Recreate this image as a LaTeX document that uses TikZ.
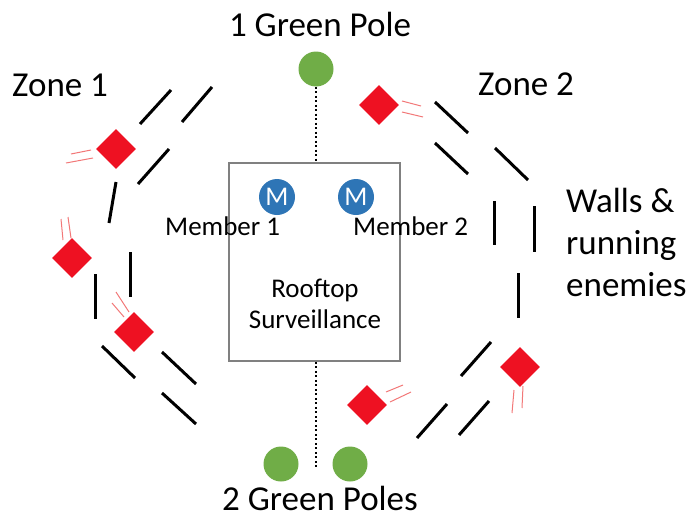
\documentclass[tikz,border=0pt]{standalone}
\usepackage{fontspec}
\setmainfont{Carlito}
\usetikzlibrary{shapes.geometric}
\definecolor{polegreen}{RGB}{112,173,71}
\definecolor{memberblue}{RGB}{46,117,182}
\definecolor{enemyred}{RGB}{238,17,34}
\definecolor{tracered}{RGB}{242,120,120}
\tikzset{
  pole/.style={circle, fill=polegreen, minimum size=35pt, inner sep=0pt},
  member/.style={circle, fill=memberblue, text=white, minimum size=36pt, inner sep=0pt, font=\fontsize{27}{27}\selectfont},
  enemy/.style={diamond, fill=enemyred, minimum size=40pt, inner sep=0pt},
  wall/.style={line width=3pt},
  trace/.style={tracered, line width=1pt},
  dotline/.style={line width=2.5pt, dash pattern=on 2pt off 2.5pt},
  bigtext/.style={font=\fontsize{35}{42}\selectfont, inner sep=0pt},
  boxtext/.style={font=\fontsize{27}{31}\selectfont, inner sep=0pt},
}
\begin{document}
\begin{tikzpicture}[x=1pt, y=-1pt]
	\useasboundingbox (0,0) rectangle (692,519);

	% poles and rooftop
	\node[pole]                                   (toppole)  at (316,69)  {};
	\node[pole]                                   (leftpole) at (281,464) {};
	\node[pole]                                   (rightpole) at (350,464) {};
	\node[draw=black!50, line width=1.5pt, minimum width=171pt, minimum height=198pt] (roof) at (314.5,262) {};
	\node[member]                                 (m1) at (277,197) {M};
	\node[member]                                 (m2) at (356,197) {M};
	\coordinate (dotend) at (316,467);

	\path [dotline] (toppole) edge (roof.north -| toppole);
	\path [dotline] (roof.south -| dotend) edge (dotend);

	% labels
	\node[bigtext, anchor=base]      (t1)    at (320,37)  {1 Green Pole};
	\node[bigtext, anchor=base]      (t2)    at (320,510) {2 Green Poles};
	\node[bigtext, anchor=base west] (zone1) at (12,96)   {Zone 1};
	\node[bigtext, anchor=base west] (zone2) at (478,95)  {Zone 2};
	\node[bigtext, anchor=base west, align=left] (walls) at (566,296) {Walls \&\\running\\enemies};
	\node[boxtext, anchor=base west] (n1) at (165,235) {Member 1};
	\node[boxtext, anchor=base west] (n2) at (353,235) {Member 2};
	\node[boxtext, anchor=base, align=center] (roofname) at (315,328) {Rooftop\\Surveillance};

	% zone 1 enemies
	\node[enemy] (e1) at (116,149) {};
	\node[enemy] (e2) at (72,258)  {};
	\node[enemy] (e3) at (134,332) {};
	\draw[trace] (91,150) -- (71,154);  \draw[trace] (93,158) -- (66,163);
	\draw[trace] (63,240) -- (61,219);  \draw[trace] (71,238) -- (68,217);
	\draw[trace] (124,317) -- (112,303); \draw[trace] (129,312) -- (116,292);

	% zone 1 walls
	\draw[wall] (140,124) -- (171,90);
	\draw[wall] (182,122) -- (212,87);
	\draw[wall] (138,184) -- (169,149);
	\draw[wall] (116,182) -- (109,223);
	\draw[wall] (130,252) -- (130,297);
	\draw[wall] (95,274) -- (95,319);
	\draw[wall] (102,346) -- (135,378);
	\draw[wall] (162,352) -- (196,384);
	\draw[wall] (162,393) -- (196,424);

	% zone 2 enemies
	\node[enemy] (e4) at (379,105) {};
	\node[enemy] (e5) at (520,367) {};
	\node[enemy] (e6) at (367,405) {};
	\draw[trace] (402,101) -- (421,106); \draw[trace] (402,112) -- (423,117);
	\draw[trace] (514,390) -- (512,413); \draw[trace] (523,386) -- (522,408);
	\draw[trace] (386,392) -- (403,385); \draw[trace] (390,402) -- (411,392);

	% zone 2 walls
	\draw[wall] (435,102) -- (468,133);
	\draw[wall] (435,143) -- (468,174);
	\draw[wall] (495,148) -- (528,180);
	\draw[wall] (494,201) -- (494,245);
	\draw[wall] (534,206) -- (534,252);
	\draw[wall] (518,273) -- (518,318);
	\draw[wall] (491,342) -- (461,376);
	\draw[wall] (489,401) -- (459,435);
	\draw[wall] (447,404) -- (417,438);
\end{tikzpicture}
\end{document}
